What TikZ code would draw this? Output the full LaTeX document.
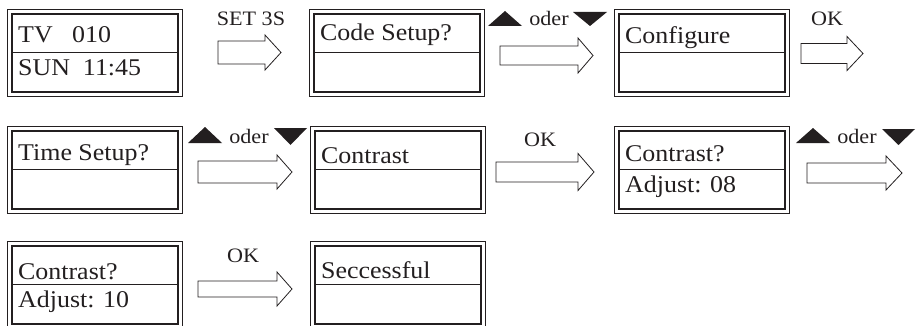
\documentclass[tikz,border=0pt]{standalone}
\usepackage{fontspec}
\setmainfont{Liberation Serif}[FakeStretch=1.08]
\definecolor{ink}{HTML}{231F20}
\tikzset{
  lcdouter/.style={draw=ink, line width=1pt, rectangle, inner sep=0pt, minimum width=175pt, minimum height=87pt, anchor=north west},
  lcdinner/.style={draw=ink, line width=1.8pt},
  lcdtext/.style={inner sep=0pt, anchor=base west, text=ink, font=\fontsize{24}{28}\selectfont},
  lbltext/.style={inner sep=0pt, anchor=base, text=ink, font=\fontsize{20.5}{24}\selectfont},
  blockarrow/.style={draw=ink, line width=0.8pt, fill=white, line join=miter},
  tri/.style={fill=ink}
}
% #1 name, #2 x, #3 y, #4 line1, #5 base1, #6 line2, #7 base2
\newcommand\lcdbox[7]{%
  \node[lcdouter] (#1) at (#2,#3) {};
  \draw[lcdinner] ([shift={(5pt,-5pt)}]#1.north west) rectangle ([shift={(-5pt,5pt)}]#1.south east);
  \draw[lcdinner] ([shift={(5pt,-43.5pt)}]#1.north west) -- ([shift={(-5pt,-43.5pt)}]#1.north east);
  \node[lcdtext] (#1-a) at ([shift={(11pt,-#5pt)}]#1.north west) {#4};
  \node[lcdtext] (#1-b) at ([shift={(11pt,-#7pt)}]#1.north west) {#6};
}
% #1 x1, #2 x2, #3 mid, #4 shaft half, #5 head half, #6 head start
\newcommand\barrow[6]{%
  \draw[blockarrow] (#1,{#3-#4}) -- (#6,{#3-#4}) -- (#6,{#3-#5}) -- (#2,#3) -- (#6,{#3+#5}) -- (#6,{#3+#4}) -- (#1,{#3+#4}) -- cycle;
}
% up/down triangles: #1 x1, #2 x2, #3 ytop, #4 ybot
\newcommand\uptri[4]{\fill[tri] (#1,#4) -- (#2,#4) -- ({(#1+#2)/2},#3) -- cycle;}
\newcommand\dntri[4]{\fill[tri] (#1,#3) -- (#2,#3) -- ({(#1+#2)/2},#4) -- cycle;}
\begin{document}
\begin{tikzpicture}[x=1pt,y=-1pt]
\useasboundingbox (0,0) rectangle (917,326);
% row 1
\lcdbox{b1}{7}{9}{TV\ \ \ 010}{34}{SUN\ \ 11:45}{67}
\lcdbox{b2}{309}{9}{Code Setup?}{31.5}{}{67}
\lcdbox{b3}{614}{9}{Configure}{35}{}{67}
\barrow{218}{281}{52.5}{11.5}{17.5}{265}
\node[lbltext] (l1) at (251,26) {SET 3S};
\barrow{500}{593}{55.5}{9.5}{17.5}{578}
\uptri{488}{522}{11}{26}
\node[lbltext] (l2) at (549,26) {oder};
\dntri{573}{607}{12}{26}
\barrow{801}{863}{53.5}{10}{17}{847}
\node[lbltext] (l3) at (827,26) {OK};
% row 2
\lcdbox{b4}{7}{126}{Time Setup?}{34}{}{67}
\lcdbox{b5}{310}{126}{Contrast}{37}{}{67}
\lcdbox{b6}{614}{126}{Contrast?}{35}{Adjust: 08}{66}
\uptri{188}{222}{127}{143}
\node[lbltext] (l4) at (249,143) {oder};
\dntri{274}{307}{128}{145}
\barrow{198}{292}{172}{11}{17}{277}
\barrow{496}{594}{172}{10}{18.5}{578}
\node[lbltext] (l5) at (540,146) {OK};
\uptri{796}{830}{128}{143}
\node[lbltext] (l6) at (857,143) {oder};
\dntri{882}{915}{129}{145}
\barrow{807}{902}{173}{10}{17}{886}
% row 3
\lcdbox{b7}{7}{241}{Contrast?}{38}{Adjust: 10}{66}
\lcdbox{b8}{310}{241}{Seccessful}{37}{}{66}
\barrow{198}{292}{289}{8}{17}{277}
\node[lbltext] (l7) at (243,262) {OK};
\end{tikzpicture}
\end{document}
